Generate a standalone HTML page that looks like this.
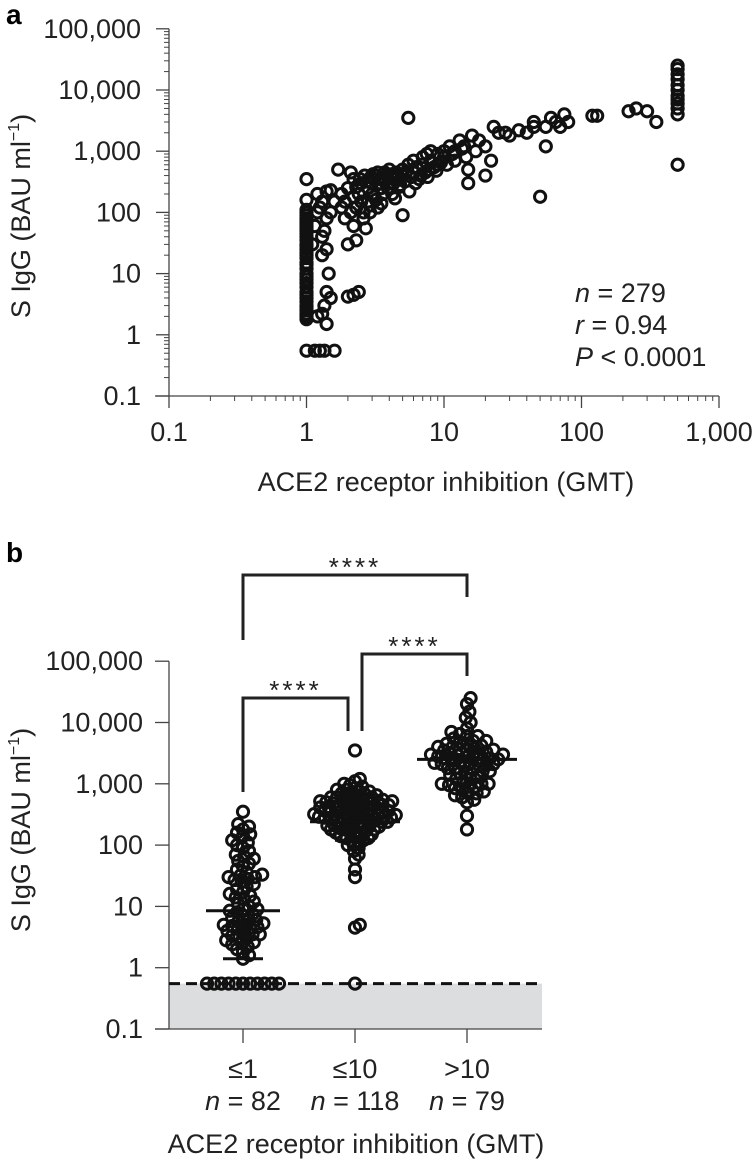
<!DOCTYPE html>
<html><head><meta charset="utf-8"><style>
html,body{margin:0;padding:0;background:#fff;}
svg{display:block;font-family:"Liberation Sans",Arial,sans-serif;}
</style></head><body>
<svg id="fig" width="752" height="1160" viewBox="0 0 752 1160" xmlns="http://www.w3.org/2000/svg">
<text x="6" y="24" font-size="28" font-weight="bold">a</text>
<text x="6" y="562" font-size="28" font-weight="bold">b</text>
<g id="ga"></g>
<g id="gb"></g>
</svg>
<script>
// ---------- Panel a data ----------
const topGMT = [1,1,1,1,1,1,1,1,1,1,1,1,1,1,1,1,1,1,1,1,1,1,1,1,1,1,1,1,1,1,1,1,1,1,1,1,1,1,1,1,
1.15,1.25,1.35,1.6,1.2,1.3,1.4,1.35,1.4,1.5,1.45,1.3,1.4,1.3,1.35,1.4,1.2,1.3,1.2,1.4,1.5,1.1,1.15,1.25,1.5,1.6,
1.7,2.1,2.2,2,2.2,2.3,2,2.2,2.4,1.8,1.9,2,2.1,2.3,2.4,2.5,1.9,2.6,2.5,2.2,1.8,2.7,2.9,3,3,3.2,3.3,3.5,3.5,3.8,4,4,4.2,4.5,4.5,5,5,5,5.5,5.5,6,6,6.5,7,7,7.5,8,8,9,9,10,10,11,12,12,13,14,15,15,16,17,18,20,20,22,23,25,28,30,35,40,45,45,50,55,55,60,65,70,75,80,120,130,220,250,300,350,
500,500,500,500,500,500,500,500,500,500,500,500,
2.8,3.1,3.3,3.6,3.9,4.3,4.8,5.2,5.8,6.2,6.8,7.3,7.8,8.5,9.5,3.4,3.7,4.1,4.6,5.3,6.3,2.6,2.9,3.2,3.5,4.4,2.8,3.1,3.7,4.2,4.7,5.6,6.6,7.6,8.8,10.5,11.5,13.5,14.5,2.3,2.45,2.65,2.75,2.95,3.05];
const topIgG = [0.55,2,2.2,2.5,3,3.5,4,5,6,7,8,10,12,15,18,20,25,30,35,40,50,60,70,80,90,100,110,160,350,1.8,2.8,4.5,9,14,22,28,45,55,65,75,
0.55,0.55,0.55,0.55,2,2.2,1.5,3,5,4,10,20,25,40,50,80,100,150,200,220,230,30,60,120,100,150,
500,450,350,30,60,35,4.2,4.5,5,200,150,250,100,120,200,300,80,80,150,180,120,55,100,200,300,400,450,250,350,400,300,500,200,450,350,500,400,90,3500,600,700,450,500,800,600,900,700,1000,900,600,1000,800,1200,1000,700,1500,1200,300,500,1800,1000,1500,1200,400,700,2500,2000,2000,1800,2200,2000,3000,2500,180,2500,1200,3500,3000,2500,4000,3000,3800,3800,4500,5000,4500,3000,
4000,5000,6000,7000,8000,10000,12000,15000,18000,22000,25000,600,
150,180,120,200,250,300,280,320,380,300,400,450,500,550,650,300,320,380,420,450,550,100,130,160,140,170,250,350,450,420,260,220,350,380,480,600,900,1100,800,260,350,400,320,380,420];
const topYTicks = [0.1,1,10,100,1000,10000,100000];
const topYLabels = ["0.1","1","10","100","1,000","10,000","100,000"];
const topXTicks = [0.1,1,10,100,1000];
const topXLabels = ["0.1","1","10","100","1,000"];
const statLines = ["n = 279","r = 0.94","P < 0.0001"];

// ---------- Panel b data ----------
const groupLabels = ["\u22641","\u226410",">10"];
const groupN = ["n = 82","n = 118","n = 79"];
const group1 = [0.55,0.55,0.55,0.55,0.55,0.55,0.55,0.55,0.55,0.55,0.55,
1.4,1.6,1.8,2,2.2,2.4,2.6,2.8,3,3.2,3.5,3.8,4,4.3,4.6,5,5,5.3,5.6,6,6.5,7,7.5,8,8.5,9,10,11,12,13,14,15,17,19,21,23,25,28,30,30,33,36,40,45,50,55,60,65,70,80,90,100,110,120,140,150,160,180,200,220,350,2.5,3.5,4.5,6,9,16,4.8,3.3,27,32];
const group2 = [3500,0.55,4.5,5,30,40,60,70,80,90,100,110,120,130,140,150,160,170,180,190,200,210,220,230,240,250,260,270,280,290,300,320,340,360,380,400,420,440,460,480,500,520,550,580,600,650,700,750,800,900,1000,1100,1200,
150,180,200,220,250,280,300,330,360,400,450,500,550,600,700,800,120,140,160,190,210,240,270,310,350,390,430,470,520,570,620,680,750,850,950,100,130,170,230,290,340,410,480,540,640,260,310,360,200,180,320,420,520,450,380,280,240,300,350,400,500,600,270];
const group3 = [25000,20000,15000,12000,10000,8000,7000,6500,6000,5500,5000,4800,4500,4200,4000,3800,3600,3500,3300,3200,3000,2900,2800,2700,2600,2500,2400,2300,2200,2100,2000,1900,1800,1700,1600,1500,1400,1300,1200,1100,1000,1000,950,900,850,800,750,700,650,600,550,500,300,180,
3000,2500,2000,4000,5000,1500,1200,2800,3500,2200,1800,6000,4500,1000,900,700,2600,3100,3700,1600,2100];
const groupMean = [8.5,240,2500];
const groupLow = [1.4,120,1200];
const lod = 0.55;

const NS="http://www.w3.org/2000/svg";
function mk(parent,tag,attrs,text){const e=document.createElementNS(NS,tag);for(const k in attrs)e.setAttribute(k,attrs[k]);if(text!==undefined)e.textContent=text;parent.appendChild(e);return e;}
const L=Math.log10;
const FS=27;

// ---------- Panel a ----------
const ga=document.getElementById('ga');
const ax0=169, ay0=396, axD=137.5, ayD=61.2;
const xA=v=>ax0+axD*L(v/0.1);
const yA=v=>ay0-ayD*L(v/0.1);
const axCol="#444";
let e;
e=mk(ga,'line',{x1:ax0,y1:yA(100000),x2:ax0,y2:ay0,stroke:axCol,'stroke-width':1.3});


e=mk(ga,'line',{x1:ax0-14,y1:ay0,x2:xA(1000),y2:ay0,stroke:axCol,'stroke-width':1.3});


for(let d=0;d<6;d++){for(let m=2;m<10;m++){const v=topYTicks[d]*m;
 e=mk(ga,'line',{x1:ax0-5,y1:yA(v),x2:ax0,y2:yA(v),stroke:axCol,'stroke-width':1});
 
 
 const xv=topXTicks[Math.min(d,3)]*m; if(d<4){
 e=mk(ga,'line',{x1:xA(xv),y1:ay0,x2:xA(xv),y2:ay0+5,stroke:axCol,'stroke-width':1});
 
 }}}
topYTicks.forEach((v,i)=>{
 e=mk(ga,'line',{x1:ax0-13,y1:yA(v),x2:ax0,y2:yA(v),stroke:axCol,'stroke-width':1.3});
 
 
 e=mk(ga,'text',{x:141,y:yA(v)+9,'font-size':FS,'text-anchor':'end',fill:'#222'},topYLabels[i]);
 
 
});
topXTicks.forEach((v,i)=>{
 e=mk(ga,'line',{x1:xA(v),y1:ay0,x2:xA(v),y2:ay0+12,stroke:axCol,'stroke-width':1.3});
 
 
 e=mk(ga,'text',{x:xA(v),y:441,'font-size':FS,'text-anchor':'middle',fill:'#222'},topXLabels[i]);
 
 
});
e=mk(ga,'text',{x:446,y:491,'font-size':FS,'text-anchor':'middle',fill:'#222'},'ACE2 receptor inhibition (GMT)');


e=mk(ga,'text',{x:0,y:0,'font-size':FS,'text-anchor':'middle',fill:'#222',transform:'translate(30,216) rotate(-90)'});


e.innerHTML='S IgG (BAU ml<tspan font-size="16" dy="-11">\u22121</tspan><tspan dy="11">)</tspan>';
topGMT.forEach((g,i)=>{
 e=mk(ga,'circle',{cx:xA(g),cy:yA(topIgG[i]),r:5.6,fill:'none',stroke:'#111','stroke-width':3});
 
 
});
statLines.forEach((s,i)=>{
 const parts=s.split(' ');
 e=mk(ga,'text',{x:575,y:302+i*32,'font-size':FS,fill:'#222'});
 
 
 e.innerHTML='<tspan font-style="italic">'+parts[0]+'</tspan> '+parts.slice(1).join(' ').replace('<','&lt;');
});

// ---------- Panel b ----------
const gb=document.getElementById('gb');
const bx0=169, bxEnd=542, by0=1029, byD=61.3;
const yB=v=>by0-byD*L(v/0.1);
const catX=[243,355,467];
e=mk(gb,'rect',{x:bx0,y:yB(lod),width:bxEnd-bx0,height:by0-yB(lod),fill:'#dcdddf'});


e=mk(gb,'line',{x1:bx0,y1:yB(100000),x2:bx0,y2:by0,stroke:axCol,'stroke-width':1.3});


e=mk(gb,'line',{x1:bx0-14,y1:by0,x2:bxEnd,y2:by0,stroke:axCol,'stroke-width':1.3});


topYTicks.forEach((v,i)=>{
 e=mk(gb,'line',{x1:bx0-14,y1:yB(v),x2:bx0,y2:yB(v),stroke:axCol,'stroke-width':1.3});
 
 
 e=mk(gb,'text',{x:143,y:yB(v)+9,'font-size':FS,'text-anchor':'end',fill:'#222'},topYLabels[i]);
 
 
});
catX.forEach((cx,i)=>{
 e=mk(gb,'line',{x1:cx,y1:by0,x2:cx,y2:by0+14,stroke:axCol,'stroke-width':1.3});
 
 
 e=mk(gb,'text',{x:cx,y:1078,'font-size':FS,'text-anchor':'middle',fill:'#222'},groupLabels[i]);
 
 
 e=mk(gb,'text',{x:cx,y:1110,'font-size':FS,'text-anchor':'middle',fill:'#222'});
 
 
 e.innerHTML='<tspan font-style="italic">n</tspan> '+groupN[i].slice(2);
});
e=mk(gb,'text',{x:356,y:1153,'font-size':FS,'text-anchor':'middle',fill:'#222'},'ACE2 receptor inhibition (GMT)');


e=mk(gb,'text',{x:0,y:0,'font-size':FS,'text-anchor':'middle',fill:'#222',transform:'translate(30,830) rotate(-90)'});


e.innerHTML='S IgG (BAU ml<tspan font-size="16" dy="-11">\u22121</tspan><tspan dy="11">)</tspan>';
e=mk(gb,'line',{x1:bx0,y1:yB(lod),x2:bxEnd,y2:yB(lod),stroke:'#111','stroke-width':3,'stroke-dasharray':'11 6'});


const swarmGap=[6.6,5.2,6.6];
function swarm(vals,cx,D){
 const placed=[];
 const sorted=vals.slice().sort((a,b)=>a-b);
 sorted.forEach(v=>{const y=yB(v);let off=0;
  for(let k=0;k<200;k++){const c=(k%2?1:-1)*Math.ceil(k/2)*1.2;
   if(placed.every(p=>Math.hypot(p[0]-(cx+c),p[1]-y)>=D)){off=c;break;}}
  placed.push([cx+off,y]);});
 return placed;}
[group1,group2,group3].forEach((gv,gi)=>{
 swarm(gv,catX[gi],swarmGap[gi]).forEach(p=>{
  e=mk(gb,'circle',{cx:p[0],cy:p[1],r:5.6,fill:'none',stroke:'#111','stroke-width':3});
  
  
 });
});
const meanHalf=[37,45,50];
groupMean.forEach((m,i)=>{
 e=mk(gb,'line',{x1:catX[i]-meanHalf[i],y1:yB(m),x2:catX[i]+meanHalf[i],y2:yB(m),stroke:'#111','stroke-width':3});
 
 
 e=mk(gb,'line',{x1:catX[i]-20,y1:yB(groupLow[i]),x2:catX[i]+20,y2:yB(groupLow[i]),stroke:'#111','stroke-width':3});
 
 
});
function bracket(x1,x2,yTop,b1,b2,name){
 e=mk(gb,'polyline',{points:`${x1},${b1} ${x1},${yTop} ${x2},${yTop} ${x2},${b2}`,fill:'none',stroke:'#222','stroke-width':3});
 
 
 e=mk(gb,'text',{x:(x1+x2)/2,y:yTop+1,'font-size':26,'text-anchor':'middle',fill:'#222','letter-spacing':'3'},'****');
 
 
}
bracket(243,467,575,640,597,'bracket-1-vs-3');
bracket(243,348,698,792,731,'bracket-1-vs-2');
bracket(362,467,654,731,676,'bracket-2-vs-3');
</script>
</body></html>
